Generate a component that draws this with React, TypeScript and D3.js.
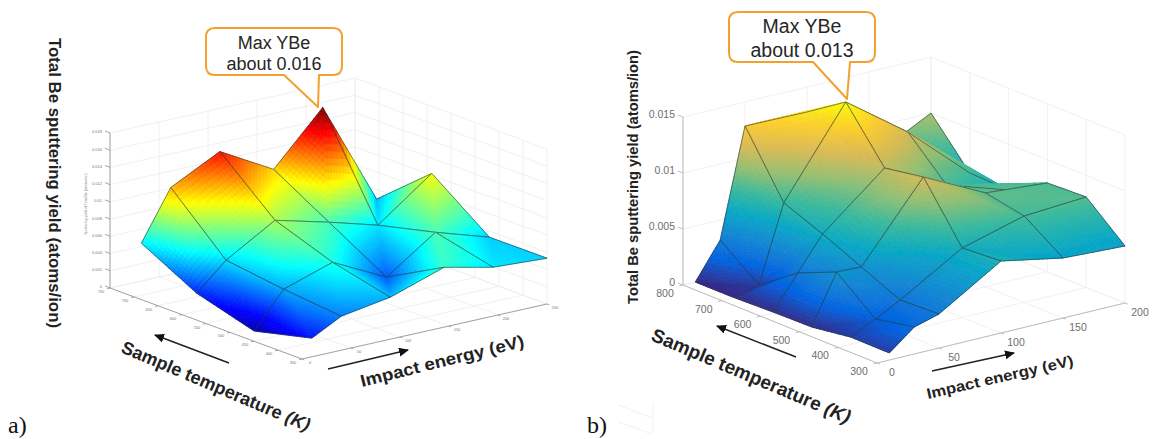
import React, { useEffect, useRef } from 'react'
import * as d3 from 'd3'

// panel a) values, rows follow temperaturesA
const temperaturesA = [350, 470, 590, 705]
const energiesA = [10, 40, 90, 145, 195, 250]
const yieldRowA350 = [0.00217, 0.00395, 0.00488, 0.00695, 0.00568, 0.00532]
const yieldRowA470 = [0.00052, 0.00461, 0.00646, 0.00333, 0.00726, 0.00528]
const yieldRowA590 = [0.00245, 0.0055, 0.00886, 0.00723, 0.00561, 0.01022]
const yieldRowA705 = [0.00587, 0.01158, 0.01447, 0.011, 0.01689, 0.00486]
const yieldA = [yieldRowA350, yieldRowA470, yieldRowA590, yieldRowA705]

const tempTicksA = [350, 400, 450, 500, 550, 600, 650, 700, 750]
const energyTicksA = [0, 50, 100, 150, 200, 250]
const yieldTicksA = [0, 0.002, 0.004, 0.006, 0.008, 0.01, 0.012, 0.014, 0.016, 0.018]

// panel b)
const temperaturesB = [300, 400, 500, 600, 700, 800]
const energiesB = [10, 30, 50, 100, 150, 200]
const yieldRowB300 = [0.00063, 0.00241, 0.00304, 0.00643, 0.00536, 0.00509]
const yieldRowB400 = [0.00066, 0.00173, 0.00289, 0.0062, 0.00771, 0.00807]
const yieldRowB500 = [0.00016, 0.00454, 0.00445, 0.01114, 0.00838, 0.00793]
const yieldRowB600 = [0.00011, 0.00305, 0.006, 0.01055, 0.0077, 0.00591]
const yieldRowB700 = [0, 0.00059, 0.00738, 0.01505, 0.01104, 0.00604]
const yieldRowB800 = [0, 0.00321, 0.01286, 0.01277, 0.00714, 0.01]
const yieldB = [yieldRowB300, yieldRowB400, yieldRowB500, yieldRowB600, yieldRowB700, yieldRowB800]

const tempTicksB = [300, 400, 500, 600, 700, 800]
const energyTicksB = [0, 50, 100, 150, 200]
const yieldTicksB = [0, 0.005, 0.01, 0.015]

const yLabel = 'Total Be sputtering yield (atoms/ion)'
const tempLabel = 'Sample temperature '
const energyLabel = 'Impact energy (eV)'

const sansFont = '"Liberation Sans", Arial, sans-serif'

const jet = d3.scaleLinear<string>()
  .domain([0, 0.11, 0.36, 0.61, 0.87, 1])
  .range(['#00008f', '#0000ff', '#00ffff', '#ffff00', '#ff0000', '#800000'])
  .clamp(true)

const parula = d3.scaleLinear<string>()
  .domain([0, 0.125, 0.25, 0.375, 0.5, 0.625, 0.75, 0.875, 1])
  .range(['#352a87', '#0363e1', '#1485d4', '#06a7c6', '#38b99e', '#92bf73', '#d9ba56', '#fcce2e', '#f9fb0e'])
  .clamp(true)

function addText(g, x, y, str, opts: any = {}) {
  const t = g.append('text')
    .attr('x', x)
    .attr('y', y)
    .attr('font-family', opts.family || sansFont)
    .attr('font-size', opts.size)
    .attr('font-weight', opts.weight || 'normal')
    .attr('fill', opts.fill || '#222')
    .attr('text-anchor', opts.anchor || 'middle')
    .text(str)
  if (opts.italicTail) t.append('tspan').attr('font-style', 'italic').text(opts.italicTail)
  if (opts.rotate) t.attr('transform', `rotate(${opts.rotate} ${x} ${y})`)
  if (opts.length) t.attr('textLength', opts.length).attr('lengthAdjust', 'spacingAndGlyphs')
  return t
}

const pointsAttr = pts => pts.map(p => `${p[0].toFixed(1)},${p[1].toFixed(1)}`).join(' ')

function drawSurface(g, cfg) {
  const { temps, energies, values, colors, maxValue } = cfg
  const px = (t, e, z) => [
    cfg.xT(t) + cfg.xE(e) - cfg.origin[0],
    cfg.yT(t) + cfg.yE(e) - cfg.origin[1] - cfg.zPx(z),
  ]
  const wall = g.append('g').attr('stroke', cfg.gridColor).attr('stroke-width', 0.8).attr('fill', 'none')
  const line = (a, b) => wall.append('line')
    .attr('x1', a[0]).attr('y1', a[1]).attr('x2', b[0]).attr('y2', b[1])

  const [tMin, tMax] = d3.extent(cfg.tempTicks) as number[]
  const [eMin, eMax] = d3.extent(cfg.energyTicks) as number[]
  const zTop = cfg.wallTop

  // floor and back walls
  cfg.tempTicks.forEach(t => {
    line(px(t, eMin, 0), px(t, eMax, 0))
    line(px(t, eMax, 0), px(t, eMax, zTop))
  })
  cfg.energyTicks.forEach(e => {
    line(px(tMin, e, 0), px(tMax, e, 0))
    line(px(tMax, e, 0), px(tMax, e, zTop))
  })
  cfg.yieldTicks.forEach(z => {
    line(px(tMax, eMin, z), px(tMax, eMax, z))
    line(px(tMax, eMax, z), px(tMin, eMax, z))
  })

  // axes
  const axes = g.append('g').attr('stroke', cfg.axisColor).attr('stroke-width', 0.9).attr('fill', 'none')
  const axis = (a, b) => axes.append('line')
    .attr('x1', a[0]).attr('y1', a[1]).attr('x2', b[0]).attr('y2', b[1])
  axis(px(tMax, eMin, 0), px(tMin, eMin, 0))
  axis(px(tMin, eMin, 0), px(tMin, eMax, 0))
  axis(px(tMax, eMin, 0), px(tMax, eMin, zTop))

  const dE = (eMax - eMin) * cfg.tickLen
  const dT = (tMax - tMin) * cfg.tickLen
  cfg.tempTicks.forEach(t => {
    const p = px(t, eMin, 0)
    axis(p, px(t, eMin - dE, 0))
    addText(g, p[0] + cfg.tempLabelOffset[0], p[1] + cfg.tempLabelOffset[1], String(t),
      { size: cfg.tickSize, fill: cfg.tickColor })
  })
  cfg.energyTicks.forEach(e => {
    const p = px(tMin, e, 0)
    axis(p, px(tMin - dT, e, 0))
    addText(g, p[0] + cfg.energyLabelOffset[0], p[1] + cfg.energyLabelOffset[1], String(e),
      { size: cfg.tickSize, fill: cfg.tickColor })
  })
  cfg.yieldTicks.forEach(z => {
    const p = px(tMax, eMin, z)
    axis(p, [p[0] - cfg.zTickLen, p[1] - cfg.zTickLen * 0.4])
    addText(g, p[0] - cfg.zTickLen - 3, p[1] + cfg.tickSize * 0.1, String(z),
      { size: cfg.tickSize, fill: cfg.tickColor, anchor: 'end' })
  })

  // surface, painted from the far corner towards the viewer
  const steps = 16
  const surf = g.append('g').attr('filter', `url(#${cfg.blurId})`)
  const vertex = (i, j) => [temps[i], energies[j], values[i][j]]

  const fillTriangle = (parent, A, B, C) => {
    const mix = (a, b) => {
      const c = 1 - a - b
      return [0, 1, 2].map(k => a * A[k] + b * B[k] + c * C[k])
    }
    for (let a = 0; a < steps; a++) {
      for (let b = 0; b < steps - a; b++) {
        const tris = [[[a, b], [a + 1, b], [a, b + 1]]]
        if (a + b < steps - 1) tris.push([[a + 1, b], [a + 1, b + 1], [a, b + 1]])
        tris.forEach(tr => {
          const corners = tr.map(q => mix(q[0] / steps, q[1] / steps))
          const zMean = d3.mean(corners, q => q[2])
          const c = colors(zMean / maxValue)
          parent.append('polygon')
            .attr('points', pointsAttr(corners.map(q => px(q[0], q[1], q[2]))))
            .attr('fill', c)
            .attr('stroke', c)
            .attr('stroke-width', 0.7)
        })
      }
    }
  }

  for (let i = temps.length - 2; i >= 0; i--) {
    for (let j = energies.length - 2; j >= 0; j--) {
      const cell = surf.append('g')
      const near = vertex(i, j)
      const far = vertex(i + 1, j + 1)
      const left = vertex(i + 1, j)
      const right = vertex(i, j + 1)
      if (cfg.diagonal === 'across') {
        // split along the high-T/low-E to low-T/high-E corners
        fillTriangle(cell, far, left, right)
        fillTriangle(cell, near, left, right)
      } else {
        fillTriangle(cell, left, far, near)
        fillTriangle(cell, right, far, near)
      }
      cell.append('polygon')
        .attr('points', pointsAttr([near, left, far, right].map(q => px(q[0], q[1], q[2]))))
        .attr('fill', 'none')
        .attr('stroke', '#2c3a3a')
        .attr('stroke-opacity', 0.75)
        .attr('stroke-width', 0.8)
    }
  }
}

function callout(g, box, tip, foot, lines, size) {
  const [x0, y0, x1, y1] = box
  const r = 9
  const path = d3.path()
  path.moveTo(x0 + r, y0)
  path.lineTo(x1 - r, y0)
  path.quadraticCurveTo(x1, y0, x1, y0 + r)
  path.lineTo(x1, y1 - r)
  path.quadraticCurveTo(x1, y1, x1 - r, y1)
  path.lineTo(foot[1], y1)
  path.lineTo(tip[0], tip[1])
  path.lineTo(foot[0], y1)
  path.lineTo(x0 + r, y1)
  path.quadraticCurveTo(x0, y1, x0, y1 - r)
  path.lineTo(x0, y0 + r)
  path.quadraticCurveTo(x0, y0, x0 + r, y0)
  path.closePath()
  g.append('path')
    .attr('d', path.toString())
    .attr('fill', '#fff')
    .attr('stroke', '#f2a02e')
    .attr('stroke-width', 2)
    .attr('stroke-linejoin', 'round')
  lines.forEach(l => addText(g, (x0 + x1) / 2, l[1], l[0], { size, fill: '#262626' }))
}

function arrow(g, from, to) {
  g.append('line')
    .attr('x1', from[0]).attr('y1', from[1]).attr('x2', to[0]).attr('y2', to[1])
    .attr('stroke', '#222')
    .attr('stroke-width', 1.5)
    .attr('marker-end', 'url(#arrow-head)')
}

function App() {
  const ref = useRef<SVGSVGElement>(null)

  useEffect(() => {
    const svg = d3.select(ref.current)
    svg.selectAll('*').remove()

    const defs = svg.append('defs')
    defs.append('marker')
      .attr('id', 'arrow-head')
      .attr('markerUnits', 'userSpaceOnUse')
      .attr('markerWidth', 12)
      .attr('markerHeight', 10)
      .attr('refX', 9)
      .attr('refY', 4.5)
      .attr('orient', 'auto')
      .append('path')
      .attr('d', 'M0,0L10,4.5L0,9Z')
      .attr('fill', '#111')
    const blur = defs.append('filter').attr('id', 'soft')
    blur.append('feGaussianBlur').attr('stdDeviation', 0.6)

    // panel a
    const a = svg.append('g')
    drawSurface(a, {
      temps: temperaturesA,
      energies: energiesA,
      values: yieldA,
      colors: jet,
      maxValue: d3.max(yieldA.flat()),
      tempTicks: tempTicksA,
      energyTicks: energyTicksA,
      yieldTicks: yieldTicksA,
      wallTop: 0.018,
      origin: [302, 359],
      xT: d3.scaleLinear().domain([350, 750]).range([302, 110]),
      yT: d3.scaleLinear().domain([350, 750]).range([359, 288]),
      xE: d3.scaleLinear().domain([0, 250]).range([302, 547]),
      yE: d3.scaleLinear().domain([0, 250]).range([359, 304]),
      zPx: d3.scaleLinear().domain([0, 0.018]).range([0, 155]),
      diagonal: 'along',
      gridColor: '#ececec',
      axisColor: '#9a9a9a',
      tickColor: '#777',
      tickSize: 4,
      tickLen: 0.012,
      zTickLen: 5,
      tempLabelOffset: [-9, 5],
      energyLabelOffset: [8, 5],
      blurId: 'soft',
    })
    addText(a, 87, 204, 'Sputtering yield of Total Be (atoms/ion)', { size: 3.6, fill: '#777', rotate: -90 })
    addText(a, 49, 183, yLabel, { size: 16, weight: 'bold', rotate: 90, length: 290 })
    addText(a, 120, 352, tempLabel, { size: 18, weight: 'bold', rotate: 23, anchor: 'start', italicTail: '(K)' })
    addText(a, 362, 387, energyLabel, { size: 17, weight: 'bold', rotate: -14, anchor: 'start', length: 168 })
    arrow(a, [229, 363], [155, 335])
    arrow(a, [328, 369], [408, 350])
    callout(a, [206, 28, 342, 75], [318, 107], [284, 319],
      [['Max YBe', 49], ['about 0.016', 70]], 18)
    addText(a, 8, 433, 'a)', { size: 24, family: '"Liberation Serif", serif', anchor: 'start', fill: '#111' })

    // panel b
    const b = svg.append('g')
    drawSurface(b, {
      temps: temperaturesB,
      energies: energiesB,
      values: yieldB,
      colors: parula,
      maxValue: d3.max(yieldB.flat()),
      tempTicks: tempTicksB,
      energyTicks: energyTicksB,
      yieldTicks: yieldTicksB,
      wallTop: 0.015,
      origin: [683, 285],
      xT: d3.scaleLinear().domain([800, 300]).range([683, 877]),
      yT: d3.scaleLinear().domain([800, 300]).range([285, 363]),
      xE: d3.scaleLinear().domain([0, 200]).range([683, 931]),
      yE: d3.scaleLinear().domain([0, 200]).range([285, 225]),
      zPx: d3.scaleLinear().domain([0, 0.015]).range([0, 168]),
      diagonal: 'across',
      gridColor: '#eeeeee',
      axisColor: '#b5b5b5',
      tickColor: '#6e6e6e',
      tickSize: 10.5,
      tickLen: 0.015,
      zTickLen: 5,
      tempLabelOffset: [-18, 12],
      energyLabelOffset: [15, 13],
      blurId: 'soft',
    })
    addText(b, 638, 177, yLabel, { size: 15, weight: 'bold', rotate: -90, length: 254 })
    addText(b, 650, 340, tempLabel, { size: 19, weight: 'bold', rotate: 23, anchor: 'start', italicTail: '(K)' })
    addText(b, 928, 399, energyLabel, { size: 15, weight: 'bold', rotate: -13, anchor: 'start', length: 150 })
    arrow(b, [796, 357], [717, 326])
    arrow(b, [932, 371], [1014, 353])
    callout(b, [729, 12, 875, 62], [847, 99], [813, 850],
      [['Max YBe', 33], ['about 0.013', 57]], 19.5)
    addText(b, 587, 433, 'b)', { size: 24, family: '"Liberation Serif", serif', anchor: 'start', fill: '#111' })

    // leftover bit of a grid under panel b in the scan
    const scrap = svg.append('g').attr('stroke', '#eeeeee').attr('stroke-width', 0.8)
    scrap.append('line').attr('x1', 618).attr('y1', 405).attr('x2', 652).attr('y2', 418)
    scrap.append('line').attr('x1', 618).attr('y1', 422).attr('x2', 652).attr('y2', 434)
    scrap.append('line').attr('x1', 653).attr('y1', 402).attr('x2', 653).attr('y2', 434)
  }, [])

  return (
    <svg
      ref={ref}
      width={1153}
      height={439}
      style={{ position: 'absolute', left: 0, top: 0, display: 'block', background: '#fff' }}
    />
  )
}

export default App
